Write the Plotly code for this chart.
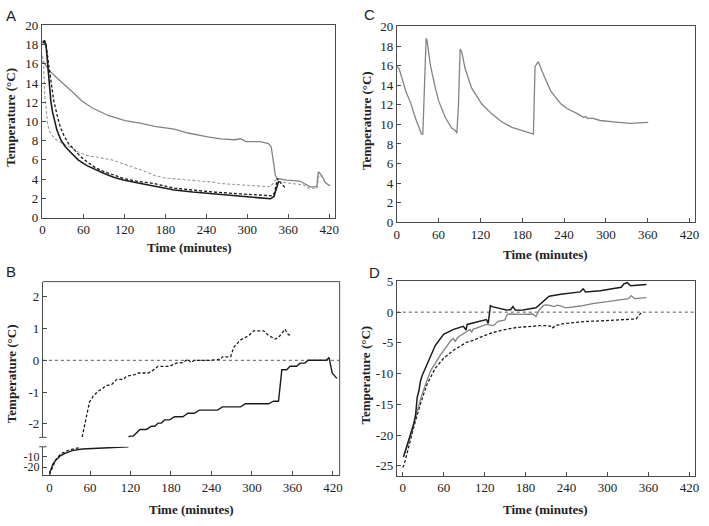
import plotly.graph_objects as go

# ---------------- Panel A (temperature vs time) ----------------
A_gray_solid_t = [0, 5, 10, 20, 30, 45, 58, 73, 97, 121, 145, 164, 193, 213, 242, 261, 281, 290, 298, 319, 331, 335, 339, 341, 343.5, 358, 377, 387, 392, 401.6, 404, 409, 413.8, 418.6, 421]
A_gray_solid_v = [16.3, 15.8, 15.3, 14.6, 14.0, 13.0, 12.1, 11.4, 10.6, 10.1, 9.8, 9.5, 9.2, 8.8, 8.4, 8.2, 8.1, 8.2, 7.9, 7.9, 7.7, 7.35, 5.4, 4.4, 4.07, 3.9, 3.8, 3.4, 3.2, 3.2, 4.75, 4.4, 3.7, 3.4, 3.3]

A_black_solid_t = [0, 3, 5, 7.3, 10, 12, 14.5, 17, 21, 26.6, 33, 41, 52, 65, 77, 89.5, 104, 118.5, 140, 162, 193, 220, 242, 260, 281, 300, 319, 334, 339, 343, 346]
A_black_solid_v = [18.3, 18.4, 18.0, 15.9, 13.8, 12.2, 11.0, 10.2, 9.1, 8.1, 7.4, 6.8, 6.0, 5.4, 5.0, 4.6, 4.2, 3.9, 3.6, 3.3, 2.87, 2.65, 2.53, 2.42, 2.3, 2.2, 2.1, 1.95, 2.2, 3.2, 3.8]

A_black_dash_t = [0, 4, 6, 9, 12, 16, 21.8, 26, 31.5, 38, 46, 55, 65, 77, 89.5, 104, 118.5, 140, 162, 193, 220, 242, 281, 319, 336, 340, 344, 350, 357]
A_black_dash_v = [18.2, 18.2, 17.5, 16.0, 14.2, 12.3, 10.5, 9.4, 8.5, 7.7, 7.1, 6.4, 5.8, 5.2, 4.8, 4.4, 4.07, 3.75, 3.56, 3.05, 2.85, 2.7, 2.5, 2.36, 2.26, 2.6, 4.05, 3.5, 3.0]

A_gray_dash_t = [0, 1.5, 3.4, 5, 7.3, 10, 14.5, 20, 26.6, 41, 53, 65, 80, 94, 101.6, 118.6, 138, 150, 165, 180, 190, 222, 247, 261, 300, 334, 341, 348, 365, 382, 390, 402, 405.5, 409]
A_gray_dash_v = [16.8, 15.9, 12.5, 11.0, 9.8, 9.0, 8.5, 8.1, 7.8, 7.3, 6.8, 6.45, 6.3, 6.1, 6.0, 5.6, 5.1, 4.8, 4.35, 4.1, 4.05, 3.88, 3.7, 3.54, 3.37, 3.2, 3.9, 3.7, 3.55, 3.4, 3.05, 3.05, 4.75, 4.2]

# ---------------- Panel C ----------------
C_t = [0, 3.3, 8, 12.8, 19.9, 27, 34, 35.5, 37.4, 40.2, 42.1, 43.6, 48.3, 55.4, 60.1, 69.6, 79, 83.8, 86.2, 88.5, 90.9, 93.3, 98, 107.5, 121.7, 135.9, 150, 160, 165, 170, 180, 190, 196, 198.4, 203, 211.6, 221, 235.3, 244.8, 259, 268.5, 271, 274, 280, 292, 311, 334.8, 360.8]
C_v = [15.9, 15.7, 14.6, 13.4, 12.2, 10.6, 9.3, 9.0, 9.0, 16.4, 18.8, 18.5, 16.0, 13.7, 12.4, 10.7, 9.6, 9.4, 9.1, 12.0, 17.7, 17.4, 15.7, 13.7, 12.1, 11.1, 10.3, 9.9, 9.7, 9.6, 9.35, 9.1, 9.0, 15.9, 16.4, 14.9, 13.4, 12.1, 11.6, 11.1, 10.7, 10.8, 10.6, 10.65, 10.4, 10.25, 10.1, 10.2]

# ---------------- Panel B (broken axis) ----------------
B_solid_low_t = [0, 2, 5, 9.3, 16.6, 24, 33.7, 48.4, 63, 87.5, 117]
B_solid_low_v = [-26, -22, -17, -13.6, -9.1, -6.9, -4.5, -3.0, -2.4, -1.8, -1.0]
B_dash_low_t = [0, 4.4, 9.3, 16.6, 28.9, 36, 45]
B_dash_low_v = [-27, -20.5, -13, -7.5, -3.9, -2.8, -1.8]

B_dash_up_t = [48.4, 53.3, 59.2, 65.5, 72.9, 77.7, 82.6, 92.4, 99.8, 109.5, 114.4, 126.6, 131.5, 146.2, 151, 160.9, 178, 187.8, 197.6, 204.9, 209.8, 214.7, 239, 253.8, 256.2, 268.4, 273.3, 283, 295.4, 302.7, 317.4, 324.7, 334.5, 339.4, 349.1, 354, 359]
B_dash_up_v = [-2.42, -1.93, -1.32, -1.11, -0.96, -0.91, -0.81, -0.76, -0.6, -0.6, -0.5, -0.45, -0.4, -0.4, -0.35, -0.19, -0.19, -0.09, -0.07, 0.03, -0.07, 0, 0, 0.03, 0.11, 0.11, 0.42, 0.64, 0.78, 0.93, 0.93, 0.78, 0.67, 0.72, 0.98, 0.81, 0.78]
B_solid_up_t = [116.9, 119.3, 124.2, 134, 143.8, 151.1, 156, 160.9, 165.8, 170.6, 178, 185.3, 197.6, 204.9, 214.7, 222, 249, 256.2, 283, 290.5, 324.7, 332, 339.4, 344.3, 351.6, 356.5, 366.3, 371.1, 378.5, 383.4, 410.3, 414.2, 419, 422.5, 425.9]
B_solid_up_v = [-2.42, -2.39, -2.39, -2.18, -2.18, -2.08, -2.08, -1.98, -1.98, -1.88, -1.88, -1.78, -1.78, -1.67, -1.67, -1.57, -1.57, -1.47, -1.47, -1.37, -1.37, -1.29, -1.29, -0.3, -0.3, -0.19, -0.19, -0.09, -0.09, 0, 0, 0.09, -0.4, -0.5, -0.57]

# ---------------- Panel D ----------------
D_black_t = [1, 6.8, 9.1, 14, 16.4, 18.9, 21.2, 23.7, 26, 28.5, 33.3, 40.6, 47.8, 59.9, 74.4, 88.9, 91.4, 92.8, 94.3, 108.2, 122.7, 125.2, 128.5, 131, 151.7, 158, 161.4, 165.3, 176, 195.2, 205, 212, 214.6, 231.5, 260, 264.4, 267.8, 289.5, 320, 324, 329, 334, 342.7, 351, 357]
D_black_v = [-23.6, -21.5, -20.7, -18.8, -18.1, -16.7, -13.9, -12.8, -11.2, -10.3, -9.1, -7.3, -5.4, -3.6, -2.8, -2.3, -2.8, -2.9, -2.0, -1.6, -1.2, -1.85, 1.05, 0.9, 0.36, 0.4, 0.9, 0.3, 0.36, 0.7, 1.7, 2.5, 2.6, 2.9, 3.3, 3.8, 3.3, 3.5, 4.05, 4.6, 4.8, 4.3, 4.4, 4.5, 4.5]
D_gray_t = [1.9, 11.6, 18.9, 28.5, 40.6, 55.1, 70, 74.4, 77, 80, 84.1, 98.6, 101, 103, 122.7, 132.4, 139.7, 149.3, 152, 154.2, 173.5, 190.4, 195.2, 200, 207, 212, 222, 227, 232, 239, 260, 278, 300, 331, 334.5, 340, 357]
D_gray_v = [-23.3, -20.2, -17.0, -13.3, -9.6, -7.0, -4.7, -4.3, -4.8, -4.2, -3.85, -2.8, -3.3, -2.8, -2.0, -2.2, -1.5, -1.3, -0.6, -0.3, -0.35, -0.3, -0.7, 0.36, 1.15, 1.2, 0.9, 1.15, 1.0, 0.7, 1.0, 1.4, 1.7, 2.2, 2.7, 2.2, 2.35]
D_dash_t = [0, 1.9, 9.1, 16.4, 26, 35.7, 47.8, 59.9, 74.4, 93.7, 103.4, 113, 127.6, 132.4, 147, 166.2, 190.4, 200, 212, 217, 219, 224, 236, 270, 294, 320, 342, 347, 351]
D_dash_v = [-25.3, -24.9, -21.8, -18.6, -14.9, -11.7, -9.1, -7.5, -6.2, -4.9, -4.6, -4.1, -3.5, -3.3, -2.9, -2.5, -2.3, -2.2, -2.2, -2.3, -2.6, -2.2, -1.85, -1.5, -1.4, -1.25, -1.1, -0.4, 0.1]

# ---------------- Tick labels ----------------
X_TICKS = [0, 60, 120, 180, 240, 300, 360, 420]
Y_TICKS_AC = [0, 2, 4, 6, 8, 10, 12, 14, 16, 18, 20]
Y_TICKS_B_UP = [2, 1, 0, -1, -2]
Y_TICKTEXT_B_UP = ["2", "1", "0", "-1", "-2"]
Y_TICKS_B_LOW = [-10, -20]
Y_TICKTEXT_B_LOW = ["-10", "-20"]
Y_TICKS_D = [5, 0, -5, -10, -15, -20, -25]
Y_TICKTEXT_D = ["5", "0", "-5", "-10", "-15", "-20", "-25"]

X_TITLE = "Time (minutes)"
Y_TITLE = "Temperature (°C)"

W, H = 709, 526
def px(x): return x / W
def py(y): return 1 - y / H

SERIF = "Liberation Serif, Times New Roman, serif"
BLACK = "#1c1c1c"
GRAY = "#838383"
LGRAY = "#9c9c9c"
FRAME = "#4a4a4a"

fig = go.Figure()

def line(t, v, xa, ya, color, dash="solid", width=1.3):
    fig.add_trace(go.Scatter(x=t, y=v, xaxis=xa, yaxis=ya, mode="lines",
                             line=dict(color=color, width=width, dash=dash),
                             hoverinfo="skip", showlegend=False))

DASH = "3px,2px"
# A
line(A_gray_dash_t, A_gray_dash_v, "x", "y", LGRAY, DASH, 1.1)
line(A_gray_solid_t, A_gray_solid_v, "x", "y", GRAY, "solid", 1.3)
line(A_black_solid_t, A_black_solid_v, "x", "y", BLACK, "solid", 1.6)
line(A_black_dash_t, A_black_dash_v, "x", "y", BLACK, DASH, 1.3)
# C
line(C_t, C_v, "x2", "y2", GRAY, "solid", 1.3)
# B
line(B_solid_low_t, B_solid_low_v, "x3", "y3", BLACK, "solid", 1.4)
line(B_dash_low_t, B_dash_low_v, "x3", "y3", BLACK, DASH, 1.3)
line(B_solid_up_t, B_solid_up_v, "x3", "y5", BLACK, "solid", 1.4)
line(B_dash_up_t, B_dash_up_v, "x3", "y5", BLACK, DASH, 1.3)
# D
line(D_dash_t, D_dash_v, "x4", "y4", BLACK, DASH, 1.3)
line(D_gray_t, D_gray_v, "x4", "y4", GRAY, "solid", 1.3)
line(D_black_t, D_black_v, "x4", "y4", BLACK, "solid", 1.5)

common = dict(showgrid=False, zeroline=False, showline=True, linecolor=FRAME, linewidth=1,
              ticks="inside", ticklen=4, tickcolor=FRAME, tickwidth=1,
              tickfont=dict(family=SERIF, size=13, color="#222"), tickmode="array",
              fixedrange=True)
xt = dict(tickvals=X_TICKS, ticktext=[str(v) for v in X_TICKS])

layout = dict(
    width=W, height=H, margin=dict(l=0, r=0, t=0, b=0),
    paper_bgcolor="white", plot_bgcolor="white", showlegend=False,
    xaxis=dict(common, **xt, domain=[px(39.3), px(335)], range=[-1, 428], anchor="y", mirror=True),
    yaxis=dict(common, tickvals=Y_TICKS_AC, ticktext=[str(v) for v in Y_TICKS_AC],
               domain=[py(216.7), py(19)], range=[0, 20], anchor="x", mirror=True),
    xaxis2=dict(common, **xt, domain=[px(397.7), px(699)], range=[0, 428], anchor="y2", mirror=True),
    yaxis2=dict(common, tickvals=Y_TICKS_AC, ticktext=[str(v) for v in Y_TICKS_AC],
                domain=[py(221.7), py(20)], range=[0, 20], anchor="x2", mirror=True),
    xaxis3=dict(common, **xt, domain=[px(40.3), px(340)], range=[-9.8, 430], anchor="y3"),
    yaxis3=dict(common, tickvals=Y_TICKS_B_LOW, ticktext=Y_TICKTEXT_B_LOW,
                tickfont=dict(family=SERIF, size=12, color="#222"),
                domain=[py(481.7), py(452.7)], range=[-27.3, -0.9], anchor="x3"),
    yaxis5=dict(common, tickvals=Y_TICKS_B_UP, ticktext=Y_TICKTEXT_B_UP,
                domain=[py(443), py(282.7)], range=[-2.43, 2.48], anchor="x3"),
    xaxis4=dict(common, **xt, domain=[px(397.7), px(699)], range=[-8.7, 428.3], anchor="y4", mirror=True),
    yaxis4=dict(common, tickvals=Y_TICKS_D, ticktext=Y_TICKTEXT_D,
                domain=[py(482.3), py(282.5)], range=[-26.6, 5], anchor="x4", mirror=True),
)
fig.update_layout(**layout)

# Frame pieces for panel B, break markers and zero reference lines
fl = dict(color=FRAME, width=1)
fig.add_shape(type="line", xref="x3 domain", yref="y5 domain", x0=0, x1=1, y0=1, y1=1, line=fl)
fig.add_shape(type="line", xref="x3 domain", yref="paper", x0=1, x1=1, y0=py(481.7), y1=py(282.7), line=fl)
fig.add_shape(type="line", xref="paper", yref="y5 domain", x0=px(36.5), x1=px(44), y0=0, y1=0, line=fl)
fig.add_shape(type="line", xref="paper", yref="y3 domain", x0=px(36.5), x1=px(44), y0=1, y1=1, line=fl)
zl = dict(color="#555", width=1, dash="dot")
fig.add_shape(type="line", xref="x3 domain", yref="y5", x0=0, x1=1, y0=0, y1=0, line=zl, layer="below")
fig.add_shape(type="line", xref="x4 domain", yref="y4", x0=0, x1=1, y0=0, y1=0, line=zl, layer="below")

# Axis titles
tfont = dict(family=SERIF, size=13, color="#222")
def ann(text, x, y, angle=0, font=tfont):
    fig.add_annotation(text=text, xref="paper", yref="paper", x=px(x), y=py(y),
                       showarrow=False, textangle=angle, font=font,
                       xanchor="center", yanchor="middle")

for (x, y) in [(188, 248), (548, 255), (190, 517), (548, 517)]:
    ann("<b>" + X_TITLE + "</b>", x, y)
for (x, y) in [(8, 113), (367, 117), (8, 377), (366, 379)]:
    ann("<b>" + Y_TITLE + "</b>", x, y, angle=-90)

# Panel letters
lfont = dict(family="Liberation Sans, Arial, sans-serif", size=15, color="#222")
for (txt, x, y) in [("A", 8, 9), ("C", 370, 8), ("B", 8, 272), ("D", 375, 273)]:
    ann(txt, x, y, font=lfont)

fig.write_html("out.html", config={"displayModeBar": False},
               post_script="document.body.style.margin='0';document.body.style.overflow='hidden';")
